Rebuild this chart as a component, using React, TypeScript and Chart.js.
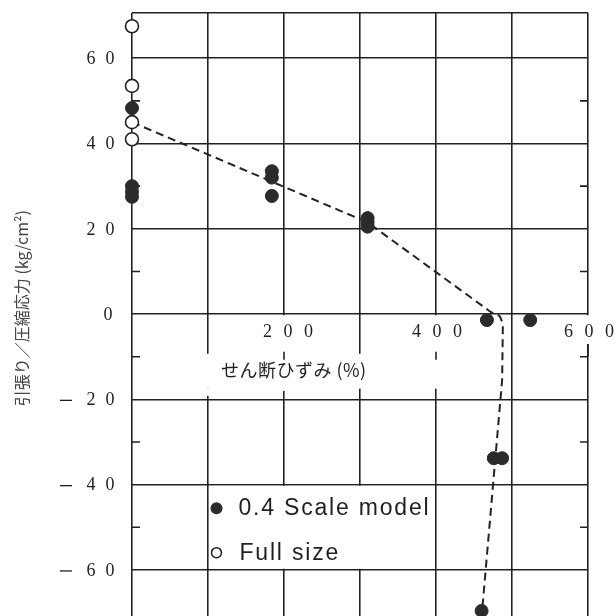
import React, { useEffect, useRef } from 'react';
import { Chart, registerables } from 'chart.js';

Chart.register(...registerables);

// ---- data ----
const fullSizeX = [0, 0, 0, 0];
const fullSizeY = [67.5, 53.5, 45, 41];

const scaleModelX = [0, 0, 0, 0, 184, 184, 184, 310, 310, 310, 467, 524, 476, 487, 460];
const scaleModelY = [48.3, 30, 28.7, 27.5, 33.5, 32, 27.7, 22.5, 21.5, 20.5, -1.4, -1.4, -33.8, -33.8, -69.6];

const trendX = [0, 310, 472, 484, 488, 487, 460.5];
const trendY = [45, 21.5, 0.5, -0.5, -2.3, -15.5, -70];

const xGridValues = [0, 100, 200, 300, 400, 500, 600];
const yGridValues = [60, 40, 20, 0, -20, -40, -60];
const xTickValues = [200, 400, 600];
const xTickLabels = ['200', '400', '600'];
const yTickValues = [60, 40, 20, 0, -20, -40, -60];
const yMinorTicks = [50, 30, 10, -10, -30, -50];

const X_MIN = 0;
const X_MAX = 600;
const Y_MIN = -70.8;
const Y_MAX = 70.6;

const xTitle = 'せん断ひずみ (%)';
const yTitle = '引張り／圧縮応力 (kg/cm²)';
const legendLabels = ['0.4 Scale model', 'Full size'];

const LINE = '#222222';
const TEXT = '#1f1f1f';

const toPoints = (xs: number[], ys: number[]) => xs.map((x, i) => ({ x, y: ys[i] }));

const decorPlugin = {
  id: 'decor',
  beforeDatasetsDraw(chart: any) {
    const { ctx, scales } = chart;
    const xs = scales.x;
    const ys = scales.y;
    const px = (v: number) => xs.getPixelForValue(v);
    const py = (v: number) => ys.getPixelForValue(v);
    ctx.save();
    ctx.fillStyle = '#ffffff';
    const rect = (x1: number, y1: number, x2: number, y2: number) =>
      ctx.fillRect(x1, y1, x2 - x1, y2 - y1);
    // masks behind x tick labels
    rect(px(200) - 28, py(0) + 1.2, px(200) + 28, py(-18));
    rect(px(400) - 28, py(0) + 1.2, px(400) + 28, py(-17.5));
    rect(px(600) - 28, py(0) + 1.2, px(600) + 28, py(-7));
    // mask behind x title
    rect(px(100) - 3, py(-9.3), px(300) + 3, py(-17.5));
    rect(px(100) - 3, py(-17.5), px(100) + 3, py(-19.2));
    // legend box
    rect(px(100) + 1.2, py(-40) + 1.2, px(400) - 1.2, py(-60) - 1.2);

    ctx.strokeStyle = LINE;
    ctx.lineWidth = 1.6;
    ctx.beginPath();
    // minor ticks on left / right frame
    yMinorTicks.forEach((v) => {
      ctx.moveTo(px(X_MIN), py(v));
      ctx.lineTo(px(X_MIN) + 8, py(v));
      ctx.moveTo(px(X_MAX), py(v));
      ctx.lineTo(px(X_MAX) - 8, py(v));
    });
    // small vertical tick pieces at 200 / 400 under labels
    [200, 400].forEach((v) => {
      ctx.moveTo(px(v), py(-10) - 5);
      ctx.lineTo(px(v), py(-10) + 3);
    });
    ctx.moveTo(px(600), py(-7));
    ctx.lineTo(px(600), py(-10));
    ctx.stroke();
    ctx.restore();
  },
  afterDraw(chart: any) {
    const { ctx, scales, chartArea } = chart;
    const xs = scales.x;
    const ys = scales.y;
    const px = (v: number) => xs.getPixelForValue(v);
    const py = (v: number) => ys.getPixelForValue(v);
    ctx.save();
    ctx.fillStyle = TEXT;
    ctx.strokeStyle = TEXT;
    ctx.textAlign = 'center';
    ctx.textBaseline = 'middle';

    // y tick labels (spaced digits, serif)
    ctx.font = '18px "Liberation Serif"';
    yTickValues.forEach((v) => {
      const yy = py(v) + 1;
      const digits = String(Math.abs(v)).split('');
      const lastX = v === 0 ? chartArea.left - 24 : chartArea.left - 22;
      const firstX = lastX - (digits.length - 1) * 19;
      digits.forEach((d, i) => ctx.fillText(d, firstX + i * 19, yy));
      if (v < 0) {
        ctx.lineWidth = 1.3;
        ctx.beginPath();
        ctx.moveTo(firstX - 31, yy);
        ctx.lineTo(firstX - 19, yy);
        ctx.stroke();
      }
    });

    // x tick labels
    xTickValues.forEach((v, k) => {
      const digits = xTickLabels[k].split('');
      const cx = px(v) + (v === 200 ? 4 : 1);
      digits.forEach((d, i) => ctx.fillText(d, cx + (i - (digits.length - 1) / 2) * 20.5, py(0) + 18));
    });

    // x title
    ctx.font = '18px "Noto Sans CJK JP"';
    ctx.textAlign = 'left';
    (ctx as any).letterSpacing = '0.5px';
    ctx.fillText(xTitle, px(117), py(0) + 56);
    (ctx as any).letterSpacing = '0px';

    // y title (vertical)
    ctx.save();
    ctx.translate(22, py(0) - 6);
    ctx.rotate(-Math.PI / 2);
    ctx.textAlign = 'center';
    ctx.fillStyle = '#444444';
    ctx.font = '16px "Noto Sans CJK JP"';
    ctx.fillText(yTitle, 0, 0);
    ctx.restore();

    // legend
    const lx = px(100) + 8.5;
    const ly1 = py(-40) + 23.5;
    const ly2 = py(-40) + 68;
    ctx.fillStyle = '#2b2b2b';
    ctx.beginPath();
    ctx.arc(lx, ly1, 6, 0, Math.PI * 2);
    ctx.fill();
    ctx.fillStyle = '#ffffff';
    ctx.strokeStyle = LINE;
    ctx.lineWidth = 1.5;
    ctx.beginPath();
    ctx.arc(lx, ly2, 5, 0, Math.PI * 2);
    ctx.fill();
    ctx.stroke();
    ctx.fillStyle = TEXT;
    ctx.font = '23px "Liberation Sans"';
    (ctx as any).letterSpacing = '1.8px';
    ctx.textAlign = 'left';
    ctx.fillText(legendLabels[0], lx + 22, ly1 + 1);
    ctx.fillText(legendLabels[1], lx + 23, ly2 + 1);
    ctx.restore();
  },
};

export default function App() {
  const ref = useRef<HTMLCanvasElement | null>(null);

  useEffect(() => {
    if (!ref.current) return;
    const gridColor = (c: any) =>
      c.tick && (c.tick.value === Y_MIN) ? 'rgba(0,0,0,0)' : LINE;
    const chart = new Chart(ref.current, {
      type: 'scatter',
      data: {
        datasets: [
          {
            label: 'trend',
            data: toPoints(trendX, trendY),
            showLine: true,
            borderColor: LINE,
            borderWidth: 2,
            borderDash: [8, 5],
            pointRadius: 0,
            fill: false,
            tension: 0,
            clip: false as any,
            order: 3,
          },
          {
            label: legendLabels[0],
            data: toPoints(scaleModelX, scaleModelY),
            backgroundColor: '#2b2b2b',
            borderColor: '#2b2b2b',
            borderWidth: 1,
            pointRadius: 6.5,
            clip: false as any,
            order: 2,
          },
          {
            label: legendLabels[1],
            data: toPoints(fullSizeX, fullSizeY),
            backgroundColor: '#ffffff',
            borderColor: LINE,
            borderWidth: 1.6,
            pointRadius: 6.5,
            clip: false as any,
            order: 1,
          },
        ],
      },
      options: {
        animation: false,
        responsive: false,
        maintainAspectRatio: false,
        devicePixelRatio: 1,
        layout: { padding: { left: 132, right: 28, top: 13, bottom: 0 }, autoPadding: false },
        plugins: { legend: { display: false }, tooltip: { enabled: false } },
        events: [],
        scales: {
          x: {
            type: 'linear',
            min: X_MIN,
            max: X_MAX,
            afterBuildTicks: (s: any) => {
              s.ticks = xGridValues.map((v) => ({ value: v }));
            },
            ticks: { display: false },
            grid: { color: LINE, lineWidth: 1.6, drawTicks: false },
            border: { display: false },
          },
          y: {
            type: 'linear',
            min: Y_MIN,
            max: Y_MAX,
            afterBuildTicks: (s: any) => {
              s.ticks = [Y_MAX, ...yGridValues].map((v) => ({ value: v }));
            },
            ticks: { display: false },
            grid: { color: gridColor, lineWidth: 1.6, drawTicks: false },
            border: { display: false },
          },
        },
      },
      plugins: [decorPlugin],
    } as any);
    return () => chart.destroy();
  }, []);

  return (
    <div style={{ position: 'absolute', left: 0, top: 0, width: 616, height: 616, background: '#fff' }}>
      <canvas ref={ref} width={616} height={616} style={{ display: 'block', width: 616, height: 616 }} />
    </div>
  );
}
